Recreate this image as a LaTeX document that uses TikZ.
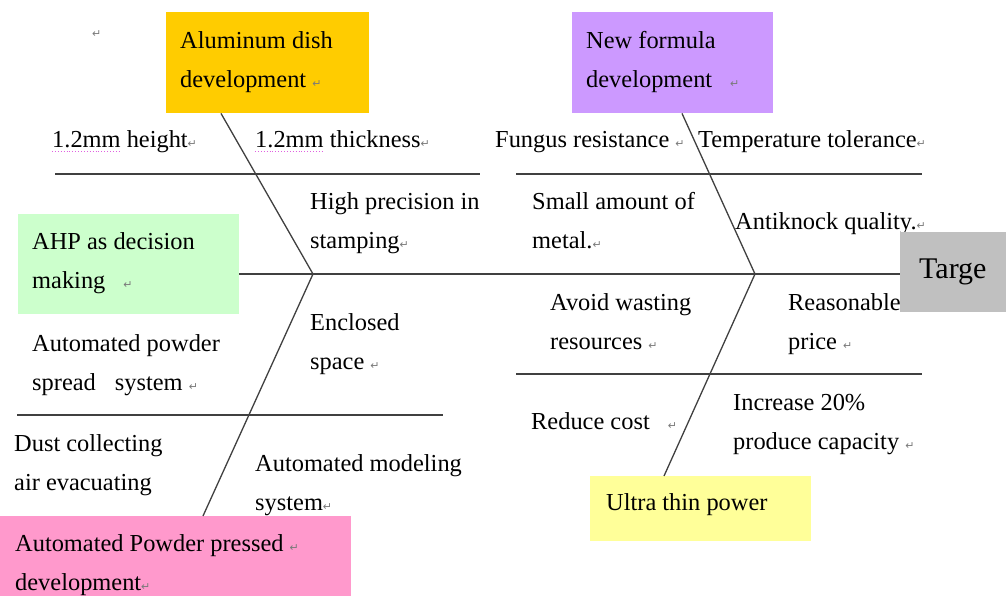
\documentclass[tikz,border=0pt]{standalone}
\usepackage{fontspec}
\setmainfont{Liberation Serif}
\newfontfamily\marksfont{DejaVu Sans}
\usetikzlibrary{calc}
\definecolor{alumfill}{HTML}{FFCC00}
\definecolor{formfill}{HTML}{CC99FF}
\definecolor{ahpfill}{HTML}{CCFFCC}
\definecolor{targefill}{HTML}{C0C0C0}
\definecolor{pressfill}{HTML}{FF99CC}
\definecolor{thinfill}{HTML}{FFFF99}
\definecolor{linegray}{HTML}{404040}
\definecolor{markgray}{HTML}{7A7A7A}
\definecolor{spellpink}{HTML}{E060E0}
% paragraph mark
\newcommand\pmk{{\marksfont\fontsize{11}{11}\selectfont\color{markgray}↵}}
\begin{document}
% multi-line labels are placed by the baseline of their last line
\begin{tikzpicture}[x=1pt,y=-1pt,
  bone/.style={draw=linegray, line width=1.3pt},
  rib/.style={draw=linegray, line width=1.3pt},
  txt/.style={anchor=base west, inner sep=0pt, align=left,
    font=\fontsize{24.4}{39.5}\selectfont},
  panel/.style={anchor=north west, inner sep=0pt, fill=#1},
  spell/.style={draw=spellpink, dotted, line width=0.9pt}]
\useasboundingbox (0,0) rectangle (1006,595);

% category boxes
\node[panel=alumfill, minimum width=203pt, minimum height=101pt] (alum) at (166,12) {};
\node[panel=formfill, minimum width=201pt, minimum height=101pt] (form) at (572,12) {};
\node[panel=ahpfill, minimum width=221pt, minimum height=100pt] (ahp) at (18,214) {};
\node[panel=pressfill, minimum width=351pt, minimum height=80pt] (press) at (0,516) {};
\node[panel=thinfill, minimum width=221pt, minimum height=65pt] (thin) at (590,476) {};

% joints and bone feet
\coordinate (jL) at (313,274);
\coordinate (jR) at (755,274);
\coordinate (alumfoot) at ($(alum.south west)+(55,0)$);
\coordinate (formfoot) at ($(form.south west)+(110,0)$);
\coordinate (pressfoot) at ($(press.north west)+(203,0)$);
\coordinate (thinfoot) at ($(thin.north west)+(74,0)$);

% ribs
\draw[rib] (55,174) -- (480,174);
\draw[rib] (516,174) -- (922,174);
\draw[rib] (17,415) -- (443,415);
\draw[rib] (516,374) -- (922,374);

% bones
\draw[bone] (alumfoot) -- (jL) -- (pressfoot);
\draw[bone] (formfoot) -- (jR) -- (thinfoot);

% texts
\node[txt] (lonemark) at (92,37) {\pmk};
\node[txt] (alumtxt) at (180,87.5) {Aluminum dish\\development \pmk};
\node[txt] (formtxt) at (586,87.5) {New formula\\development\hspace{18pt}\pmk};
\node[txt] (ahptxt) at (32,288.5) {AHP as decision\\making\hspace{18pt}\pmk};
\node[txt] (presstxt) at (15,590.5) {Automated Powder pressed \pmk\\development\pmk};
\node[txt] (thintxt) at (606,510) {Ultra thin power};

\node[txt] (height) at (52,147) {1.2mm height\pmk};
\node[txt] (thick) at (255,147) {1.2mm thickness\pmk};
\node[txt] (fungus) at (495,147) {Fungus resistance \pmk};
\node[txt] (temp) at (698,147) {Temperature tolerance\pmk};
\node[txt] (stamp) at (310,248.5) {High precision in\\stamping\pmk};
\node[txt] (metal) at (532,248.5) {Small amount of\\metal.\pmk};
\node[txt] (knock) at (735,229) {Antiknock quality.\pmk};
\node[txt] (waste) at (550,349.5) {Avoid wasting\\resources \pmk};
\node[txt] (price) at (788,349.5) {Reasonable\\price \pmk};
\node[txt] (space) at (310,369.5) {Enclosed\\space \pmk};
\node[txt] (spread) at (32,390.5) {Automated powder\\spread\hspace{19pt}system \pmk};
\node[txt] (dust) at (14,490.5) {Dust collecting\\air evacuating};
\node[txt] (model) at (255,510.5) {Automated modeling\\system\pmk};
\node[txt] (cost) at (531,429) {Reduce cost\hspace{18pt}\pmk};
\node[txt] (capacity) at (733,449.5) {Increase 20\%\\produce capacity \pmk};

% spelling marks under the measurements
\draw[spell] ($(height.base west)+(0,4)$) -- ++(69,0);
\draw[spell] ($(thick.base west)+(0,4)$) -- ++(68,0);

% target box and spine
\node[panel=targefill, minimum width=106pt, minimum height=80pt] (targe) at (900,232) {};
\node[txt, font=\fontsize{30}{36}\selectfont] (targetxt) at (919,278) {Targe};
\draw[bone] (ahp.east |- jL) -- (jL) -- (jR) -- (targe.west |- jR);
\end{tikzpicture}
\end{document}
